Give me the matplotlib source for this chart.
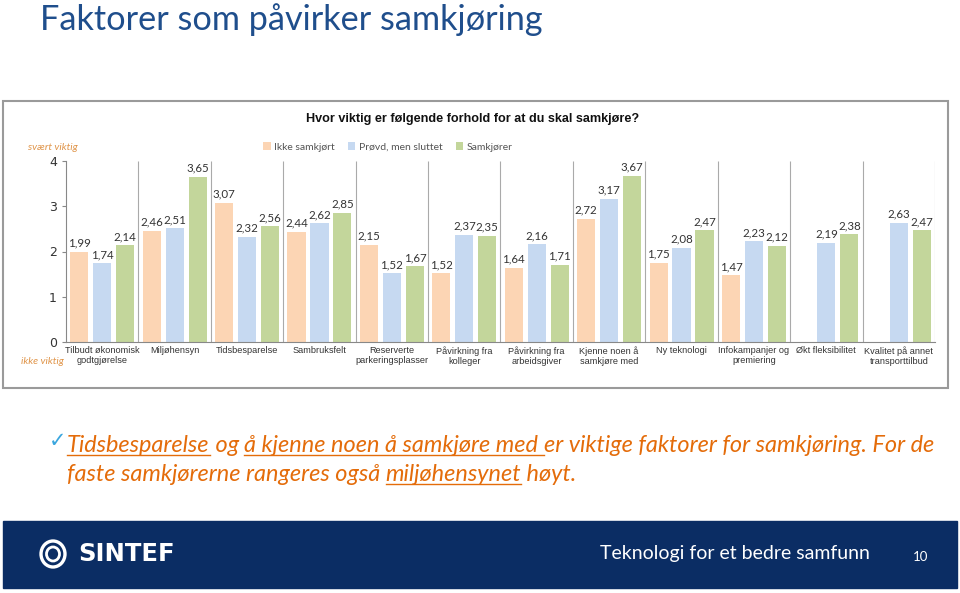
import numpy as np
import matplotlib
matplotlib.use("Agg")
import matplotlib.pyplot as plt
from matplotlib.patches import Rectangle, Ellipse

# data
categories = ["Tilbudt økonomisk\ngodtgjørelse", "Miljøhensyn", "Tidsbesparelse", "Sambruksfelt",
              "Reserverte\nparkeringsplasser", "Påvirkning fra\nkolleger", "Påvirkning fra\narbeidsgiver",
              "Kjenne noen å\nsamkjøre med", "Ny teknologi", "Infokampanjer og\npremiering",
              "Økt fleksibilitet", "Kvalitet på annet\ntransporttilbud"]
ikke_samkjort = [1.99, 2.46, 3.07, 2.44, 2.15, 1.52, 1.64, 2.72, 1.75, 1.47, np.nan, np.nan]
provd_sluttet = [1.74, 2.51, 2.32, 2.62, 1.52, 2.37, 2.16, 3.17, 2.08, 2.23, 2.19, 2.63]
samkjorer = [2.14, 3.65, 2.56, 2.85, 1.67, 2.35, 1.71, 3.67, 2.47, 2.12, 2.38, 2.47]
series_names = ["Ikke samkjørt", "Prøvd, men sluttet", "Samkjører"]
colors = ["#FCD5B4", "#C6D9F1", "#C3D69B"]

W, H = 960, 593
fig = plt.figure(figsize=(W / 100, H / 100), dpi=100)
renderer = fig.canvas.get_renderer()


def fx(x):
    return x / W


def fy(y):
    return 1 - y / H


# slide title
fig.text(fx(40), fy(20), "Faktorer som påvirker samkjøring", fontsize=24.7, color="#1F4E8C",
         family=["Lato", "DejaVu Sans"], va="center", ha="left")

# chart frame
fig.patches.append(Rectangle((fx(3), fy(388)), fx(945), 287 / H, transform=fig.transFigure,
                             fill=False, edgecolor="#9A9A9A", lw=1.5))

ax = fig.add_axes([fx(66), fy(342), fx(869), 181 / H])
x = np.arange(len(categories))
offsets = [-0.317, 0, 0.317]
for vals, off, col, name in zip([ikke_samkjort, provd_sluttet, samkjorer], offsets, colors, series_names):
    vals = np.array(vals, dtype=float)
    ax.bar(x + off, vals, width=0.25, color=col, label=name)
    for xi, v in zip(x + off, vals):
        if not np.isnan(v):
            ax.text(xi, v + 0.07, f"{v:.2f}".replace(".", ","), ha="center", va="bottom",
                    fontsize=8.3, color="#333333", family=["Lato", "DejaVu Sans"])

ax.set_xlim(-0.5, len(categories) - 0.5)
ax.set_ylim(0, 4)
ax.set_yticks([0, 1, 2, 3, 4])
ax.tick_params(axis="y", labelsize=9, colors="#333333", length=3, color="#888888")
ax.set_xticks(x)
ax.set_xticklabels(categories, fontsize=6.6, color="#333333",
                   family=["Liberation Sans", "DejaVu Sans"], linespacing=1.15)
ax.tick_params(axis="x", length=0, pad=3)
ax.vlines(np.arange(0.5, len(categories), 1), 0, 4, color="#AAAAAA", lw=0.8)
for s in ["top", "right"]:
    ax.spines[s].set_visible(False)
for s in ["left", "bottom"]:
    ax.spines[s].set_color("#888888")
    ax.spines[s].set_linewidth(0.8)

ax.legend(loc="lower left", bbox_to_anchor=((254 - 66) / 869, 1.0), ncol=3, frameon=False,
          handlelength=0.7, handleheight=0.7, handletextpad=0.3, columnspacing=1.3,
          labelcolor="#555555", prop={"family": ["Lato", "DejaVu Sans"], "size": 7.5})

fig.text(fx(473), fy(119), "Hvor viktig er følgende forhold for at du skal samkjøre?", fontsize=9.1,
         fontweight="bold", ha="center", va="center", color="#111111", family=["Liberation Sans", "DejaVu Sans"])
fig.text(fx(53), fy(147), "svært viktig", fontsize=7.5, style="italic", color="#E0954A",
         ha="center", va="center", family=["Lato", "DejaVu Sans"])
fig.text(fx(42), fy(361), "ikke viktig", fontsize=7.5, style="italic", color="#E0954A",
         ha="center", va="center", family=["Lato", "DejaVu Sans"])

# bullet text with underlined parts
fig.text(fx(58), fy(441), "✓", fontsize=15, color="#3AA6DE", ha="center", va="center",
         family=["DejaVu Sans"])
lines = [
    [("Tidsbesparelse", True), (" og ", False), ("å kjenne noen å samkjøre med ", True),
     ("er viktige faktorer for samkjøring. For de", False)],
    [("faste samkjørerne rangeres også ", False), ("miljøhensynet", True), (" høyt.", False)],
]
baselines = [452, 481]
orange = "#E46C0A"
bullet_font = ["Lato", "DejaVu Sans"]

# size the bullet font so the first line spans the same width as on the slide
probe = fig.text(0, 0, "".join(p for p, _ in lines[0]), fontsize=14, style="italic", family=bullet_font)
pw = probe.get_window_extent(renderer).width
probe.remove()
bsize = 14 * 871 / pw

for parts, yb in zip(lines, baselines):
    xpos = fx(67)
    for txt, under in parts:
        t = fig.text(xpos, fy(yb), txt, fontsize=bsize, style="italic", color=orange, ha="left",
                     va="baseline", family=bullet_font)
        bb = t.get_window_extent(renderer).transformed(fig.transFigure.inverted())
        if under:
            fig.add_artist(plt.Line2D([xpos, bb.x1], [fy(yb + 3)] * 2, transform=fig.transFigure,
                                      color=orange, lw=1))
        xpos = bb.x1

# footer band
fig.patches.append(Rectangle((fx(3), fy(588)), fx(954), 67 / H, transform=fig.transFigure,
                             color="#0B2D64", zorder=0))
fig.patches.append(Ellipse((fx(53), fy(554)), 24 / W, 26 / H, transform=fig.transFigure, fill=False,
                           edgecolor="white", lw=2.4))
fig.patches.append(Ellipse((fx(53), fy(554)), 13 / W, 14 / H, transform=fig.transFigure, fill=False,
                           edgecolor="white", lw=2.0))
fig.text(fx(78), fy(554), "SINTEF", fontsize=17.5, fontweight="bold", color="white", ha="left",
         va="center", family=["DejaVu Sans"])
fig.text(fx(870), fy(553), "Teknologi for et bedre samfunn", fontsize=14, color="white", ha="right",
         va="center", family=["Lato", "DejaVu Sans"])
fig.text(fx(921), fy(557), "10", fontsize=9.5, color="white", ha="center", va="center",
         family=["Lato", "DejaVu Sans"])

fig.savefig("out.png", dpi=100)
